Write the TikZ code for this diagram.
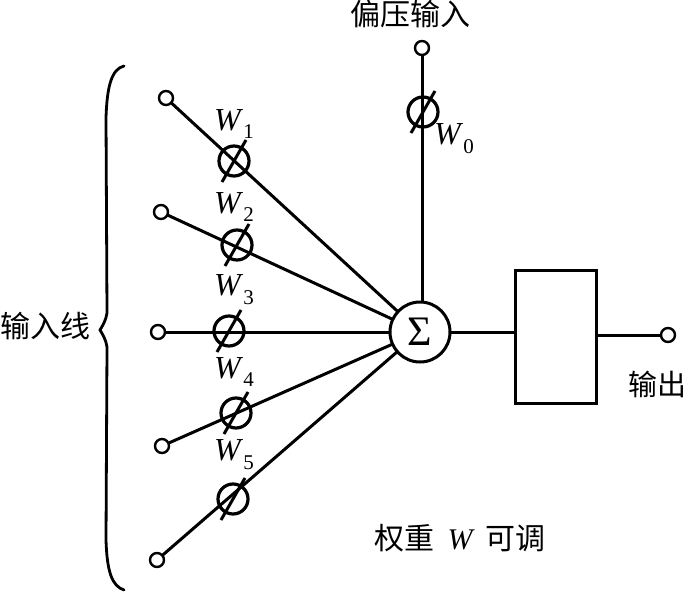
\documentclass[tikz,border=0pt]{standalone}
\usepackage{fontspec}
\setmainfont{Liberation Serif}
\newfontfamily\cjk{Noto Sans CJK SC}
\newcommand{\wlab}[1]{\textit{W}\raisebox{-.6ex}{\fontsize{21}{21}\selectfont #1}}
\begin{document}
\begin{tikzpicture}[x=1pt,y=-1pt,line width=3pt,
    every node/.style={inner sep=0pt,outer sep=0pt},
    term/.style={circle,draw,line width=2.4pt,minimum size=14pt},
    weight/.style={circle,draw,line width=3.2pt,minimum size=30pt},
    wtext/.style={font=\fontsize{32}{32}\selectfont},
    cntext/.style={font=\cjk\fontsize{30}{30}\selectfont}]
  \useasboundingbox (0,0) rectangle (687,591);
  % terminals
  \node[term] (t0) at (422,48) {};
  \node[term] (t1) at (166,98) {};
  \node[term] (t2) at (161,212) {};
  \node[term] (t3) at (158,332) {};
  \node[term] (t4) at (162,446) {};
  \node[term] (t5) at (157,560) {};
  \node[term] (out) at (668,335) {};
  % weights
  \node[weight] (w0) at (423,112) {};
  \node[weight] (w1) at (234,161) {};
  \node[weight] (w2) at (237,245) {};
  \node[weight] (w3) at (229,331) {};
  \node[weight] (w4) at (236,413) {};
  \node[weight] (w5) at (233,499) {};
  \node[circle,draw,minimum size=60pt,font=\fontsize{42}{42}\selectfont] (sum) at (420,332) {Σ};
  \node[draw,minimum width=81pt,minimum height=133pt] (box) at (555.5,336.5) {};
  % lines
  \foreach \i in {1,...,5}
    \draw (t\i) -- (sum);
  \draw (t0) -- (t0 |- sum.north);
  \foreach \i in {0,...,5}
    \draw ([shift={(-12,21)}]w\i.center) -- ([shift={(12,-21)}]w\i.center);
  \draw (sum) -- (sum -| box.west);
  \draw (box.east |- out) -- (out);
  % labels
  \node[wtext] (l0) at (454,139) {\wlab{0}};
  \node[wtext] (l1) at (234,124) {\wlab{1}};
  \node[wtext] (l2) at (234,207) {\wlab{2}};
  \node[wtext] (l3) at (234,290) {\wlab{3}};
  \node[wtext] (l4) at (234,372) {\wlab{4}};
  \node[wtext] (l5) at (234,455) {\wlab{5}};
  \node[cntext] (bias) at (410,14) {偏压输入};
  \node[cntext] (inp) at (46,326) {输入线};
  \node[cntext,font=\cjk\fontsize{29}{29}\selectfont] (outp) at (657,384) {输出};
  \node[cntext] (adj) at (460,538) {权重\hspace{13pt}{\rmfamily\itshape W}\hspace{13pt}可调};
  % brace
  \draw[line width=2.8pt,line cap=round] (124,66) .. controls (112,69) and (107,85) .. (106,118)
    -- (107,313) .. controls (106,320) and (103,325) .. (100,330)
    .. controls (103,335) and (106,340) .. (107,347)
    -- (106,540) .. controls (107,572) and (112,586) .. (124,590);
\end{tikzpicture}
\end{document}
